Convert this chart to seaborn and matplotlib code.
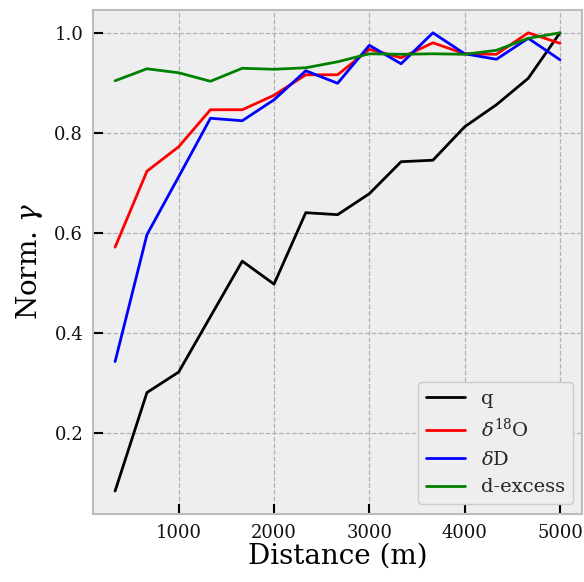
import numpy as np
import pandas as pd
import matplotlib
matplotlib.use("Agg")
import matplotlib.pyplot as plt
import seaborn as sns

distance = [333, 667, 1000, 1333, 1667, 2000, 2333, 2667, 3000, 3333, 3667, 4000, 4333, 4667, 5000]
q_vals = [0.083, 0.280, 0.321, 0.432, 0.543, 0.497, 0.640, 0.636, 0.678, 0.742, 0.745, 0.812, 0.856, 0.909, 1.000]
d18o_vals = [0.571, 0.723, 0.772, 0.846, 0.846, 0.875, 0.916, 0.916, 0.967, 0.950, 0.980, 0.958, 0.957, 1.000, 0.979]
dd_vals = [0.342, 0.596, 0.712, 0.829, 0.824, 0.866, 0.924, 0.899, 0.975, 0.938, 1.000, 0.958, 0.947, 0.989, 0.946]
dex_vals = [0.904, 0.928, 0.920, 0.903, 0.929, 0.927, 0.930, 0.942, 0.958, 0.957, 0.958, 0.957, 0.965, 0.989, 1.000]
series_names = ["q", r"$\delta^{18}$O", r"$\delta$D", "d-excess"]
series_colors = ["black", "red", "blue", "green"]

frames = []
for name, vals in zip(series_names, [q_vals, d18o_vals, dd_vals, dex_vals]):
    frames.append(pd.DataFrame({"Distance": distance, "value": vals, "series": name}))
df = pd.concat(frames, ignore_index=True)

sns.set_theme(style="darkgrid", rc={
    "axes.facecolor": "#eeeeee",
    "axes.edgecolor": "#bcbcbc",
    "axes.linewidth": 1.5,
    "grid.color": "#b2b2b2",
    "grid.linestyle": "--",
    "grid.linewidth": 0.9,
    "xtick.direction": "in",
    "ytick.direction": "in",
    "xtick.bottom": True,
    "ytick.left": True,
    "xtick.color": "black",
    "ytick.color": "black",
    "xtick.major.size": 7,
    "ytick.major.size": 7,
    "xtick.major.width": 1.5,
    "ytick.major.width": 1.5,
    "xtick.major.pad": 7,
    "ytick.major.pad": 7,
})
plt.rcParams["font.family"] = ["DejaVu Serif"]
plt.rcParams["mathtext.fontset"] = "dejavuserif"

fig = plt.figure(figsize=(5.84, 5.82), dpi=100)
ax = fig.add_axes([0.159, 0.117, 0.838, 0.866])
sns.lineplot(data=df, x="Distance", y="value", hue="series",
             palette=dict(zip(series_names, series_colors)),
             hue_order=series_names, linewidth=2, ax=ax)
ax.set_xlabel("Distance (m)", fontsize=20, color="black", labelpad=1)
ax.set_ylabel(r"Norm. $\gamma$", fontsize=20, color="black", labelpad=7)
ax.set_xticks([1000, 2000, 3000, 4000, 5000])
ax.set_yticks([0.2, 0.4, 0.6, 0.8, 1.0])
ax.tick_params(labelsize=13, colors="black", labelcolor="#111111")
leg = ax.legend(loc="lower right", fontsize=14, frameon=True, facecolor="#eeeeee",
                edgecolor="#cccccc", framealpha=1.0)
leg.set_title(None)
fig.savefig("out.png", dpi=100)
